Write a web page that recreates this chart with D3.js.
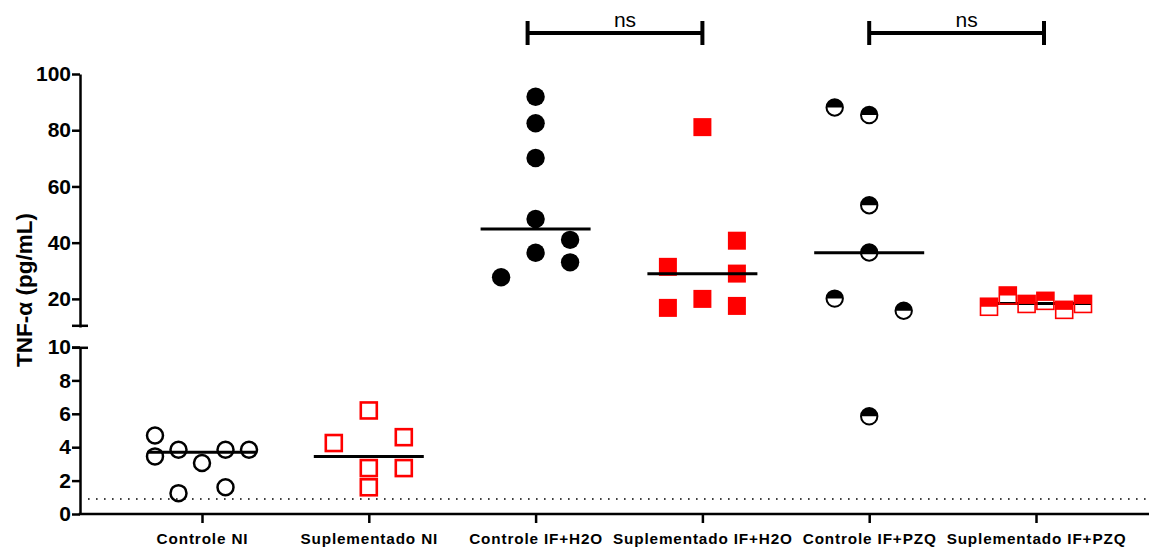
<!DOCTYPE html>
<html><head><meta charset="utf-8">
<script src="https://cdn.jsdelivr.net/npm/d3@7"></script>
<style>body{margin:0;background:#fff} svg{display:block}</style>
</head><body>
<svg id="chart" width="1149" height="550"></svg>
<script>
// ---------- data ----------
const categories = ["Controle NI","Suplementado NI","Controle IF+H2O","Suplementado IF+H2O","Controle IF+PZQ","Suplementado IF+PZQ"];
const controleNI        = [4.7, 3.45, 3.85, 3.05, 3.85, 3.85, 1.25, 1.6];
const controleNISlots   = [-2, -2, -1, 0, 1, 2, -1, 1];
const suplNI            = [6.2, 4.25, 4.6, 2.75, 2.75, 1.6];
const suplNISlots       = [0, -1, 1, 0, 1, 0];
const controleH2O       = [91.9, 82.5, 70.1, 48.4, 41.0, 36.4, 33.0, 27.7];
const controleH2OSlots  = [0, 0, 0, 0, 1, 0, 1, -1];
const suplH2O           = [81.1, 40.7, 31.4, 29.0, 20.0, 16.8, 17.5];
const suplH2OSlots      = [0, 1, -1, 1, 0, -1, 1];
const controlePZQ       = [88.1, 85.4, 53.3, 36.5, 20.1, 15.8, 5.85];
const controlePZQSlots  = [-1, 0, 0, 0, -1, 1, 0];
const suplPZQ           = [17.2, 21.2, 18.2, 19.3, 16.1, 18.2];
const suplPZQSlots      = [-2.5, -1.5, -0.5, 0.5, 1.5, 2.5];
const medians = [3.7, 3.45, 44.9, 28.9, 36.4, 18.4];
const lowerTicks = [0, 2, 4, 6, 8, 10];
const upperTicks = [20, 40, 60, 80, 100];
const detectionLimit = 0.9;
const comparisons = [{a: 2, b: 3, label: "ns"}, {a: 4, b: 5, label: "ns"}];
const yTitle = "TNF-\u03b1 (pg/mL)";

const groups = [
  {values: controleNI, slots: controleNISlots},
  {values: suplNI, slots: suplNISlots},
  {values: controleH2O, slots: controleH2OSlots},
  {values: suplH2O, slots: suplH2OSlots},
  {values: controlePZQ, slots: controlePZQSlots},
  {values: suplPZQ, slots: suplPZQSlots}
];

// ---------- styles ----------
const kinds = ["openCircle","openSquare","filledCircle","filledSquare","halfCircle","halfSquare"];
const slotWidth = [23.5, 35, 34.5, 34.5, 34.5, 18.8];
const medianBehind = [false, false, false, false, false, true];
const RED = "#ff0000";
const FONT = "'Liberation Sans', Arial, sans-serif";

const svg = d3.select("#chart");
const axisX = 80, baseY = 514;

const x = d3.scalePoint().domain(categories).range([202, 1036]);
const yLow = d3.scaleLinear().domain([0, 10]).range([514, 347]);
const yHigh = d3.scaleLinear().domain([10, 100]).range([327, 74]);
const y = v => v <= 10 ? yLow(v) : yHigh(v);

// detection limit dotted line
svg.append("line")
  .attr("x1", axisX + 8).attr("x2", 1147)
  .attr("y1", yLow(detectionLimit)).attr("y2", yLow(detectionLimit))
  .attr("stroke", "#000").attr("stroke-width", 1.6)
  .attr("stroke-dasharray", "1.6 6.4");

// y axes
function styleAxis(g) {
  g.select(".domain").attr("stroke-width", 2.5);
  g.selectAll(".tick line").attr("stroke-width", 2.5);
  g.selectAll(".tick text").attr("font-family", FONT).attr("font-weight", "bold")
    .attr("font-size", 21).attr("fill", "#000");
}
svg.append("g").attr("transform", `translate(${axisX},0)`)
  .call(d3.axisLeft(yLow).tickValues(lowerTicks).tickSize(8).tickSizeOuter(0).tickPadding(1))
  .call(styleAxis);
svg.append("g").attr("transform", `translate(${axisX},0)`)
  .call(d3.axisLeft(yHigh).tickValues(upperTicks).tickSize(8).tickSizeOuter(0).tickPadding(1))
  .call(styleAxis);
// break caps
[yHigh(10) - 1.2, yLow(10) + 0.8].forEach(cy => {
  svg.append("line").attr("x1", axisX - 8).attr("x2", axisX + 8)
    .attr("y1", cy).attr("y2", cy).attr("stroke", "#000").attr("stroke-width", 2.5);
});

// x axis
svg.append("line").attr("x1", axisX - 1.25).attr("x2", 1149)
  .attr("y1", baseY).attr("y2", baseY).attr("stroke", "#000").attr("stroke-width", 2.5);
const xg = svg.append("g").attr("transform", `translate(0,${baseY})`)
  .call(d3.axisBottom(x).tickSize(9).tickSizeOuter(0).tickPadding(10));
xg.select(".domain").remove();
xg.selectAll(".tick line").attr("stroke-width", 2.5);
xg.selectAll(".tick text").attr("font-family", FONT).attr("font-weight", "bold")
  .attr("font-size", 15.3).attr("letter-spacing", 0.85).attr("fill", "#000");

// y title
svg.append("text").attr("transform", "translate(32,290) rotate(-90)")
  .attr("text-anchor", "middle").attr("font-family", FONT).attr("font-weight", "bold")
  .attr("font-size", 22.5).text(yTitle);

// medians
function drawMedian(i) {
  const cx = x(categories[i]);
  svg.append("line").attr("x1", cx - 55).attr("x2", cx + 55)
    .attr("y1", y(medians[i])).attr("y2", y(medians[i]))
    .attr("stroke", "#000").attr("stroke-width", 3);
}
groups.forEach((g, i) => { if (medianBehind[i]) drawMedian(i); });

// points
groups.forEach((g, i) => {
  const cx0 = x(categories[i]);
  const kind = kinds[i];
  g.values.forEach((v, j) => {
    const px = cx0 + g.slots[j] * slotWidth[i];
    const py = y(v);
    const m = svg.append("g").attr("transform", `translate(${px},${py})`);
    if (kind === "openCircle") {
      m.append("circle").attr("r", 8).attr("fill", "none").attr("stroke", "#000").attr("stroke-width", 2.5);
    } else if (kind === "openSquare") {
      m.append("rect").attr("x", -8).attr("y", -8).attr("width", 16).attr("height", 16)
        .attr("fill", "none").attr("stroke", RED).attr("stroke-width", 2.6);
    } else if (kind === "filledCircle") {
      m.append("circle").attr("r", 9.2).attr("fill", "#000");
    } else if (kind === "filledSquare") {
      m.append("rect").attr("x", -9).attr("y", -9).attr("width", 18).attr("height", 18).attr("fill", RED);
    } else if (kind === "halfCircle") {
      m.append("circle").attr("r", 8.2).attr("fill", "#fff");
      m.append("path").attr("d", "M-8.2,0A8.2,8.2 0 0 1 8.2,0Z").attr("fill", "#000");
      m.append("circle").attr("r", 8.2).attr("fill", "none").attr("stroke", "#000").attr("stroke-width", 2);
    } else if (kind === "halfSquare") {
      m.append("rect").attr("x", -8.5).attr("y", -8.5).attr("width", 17).attr("height", 8.5).attr("fill", RED);
      m.append("rect").attr("x", -8.5).attr("y", -8.5).attr("width", 17).attr("height", 17)
        .attr("fill", "none").attr("stroke", RED).attr("stroke-width", 1.6);
    }
  });
});
groups.forEach((g, i) => { if (!medianBehind[i]) drawMedian(i); });

// significance brackets
const bracketShift = [-4, 4];
comparisons.forEach((c, k) => {
  const x1 = x(categories[c.a]) + bracketShift[k] - 4;
  const x2 = x(categories[c.b]) + bracketShift[k] + 4;
  const by = 33;
  const b = svg.append("g");
  b.append("line").attr("x1", x1).attr("x2", x2).attr("y1", by).attr("y2", by)
    .attr("stroke", "#000").attr("stroke-width", 4);
  [x1, x2].forEach(xx => b.append("line").attr("x1", xx).attr("x2", xx)
    .attr("y1", by - 12).attr("y2", by + 12).attr("stroke", "#000").attr("stroke-width", 4));
  b.append("text").attr("x", (x1 + x2) / 2 + 10).attr("y", 27)
    .attr("text-anchor", "middle").attr("font-family", FONT).attr("font-size", 21)
    .text(c.label);
});
</script>
</body></html>
